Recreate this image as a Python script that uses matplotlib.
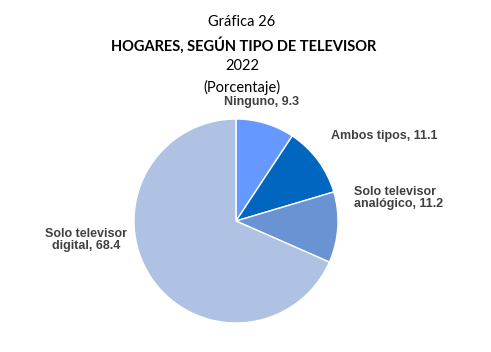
import matplotlib
matplotlib.use("Agg")
import matplotlib.pyplot as plt

# datos
categorias = ["Ninguno", "Ambos tipos", "Solo televisor\nanalógico", "Solo televisor\ndigital"]
valores = [9.3, 11.1, 11.2, 68.4]
colores = ["#6699FF", "#0066BF", "#6A93D3", "#AFC2E3"]

fig = plt.figure(figsize=(4.91, 3.52), dpi=100)

# pie centered at ~(236, 221) px, radius ~102 px
W, H = 491.0, 352.0
cx, cy, r = 236, 221, 102
ax = fig.add_axes([(cx - r) / W, (H - cy - r) / H, 2 * r / W, 2 * r / H])
ax.pie(valores, colors=colores, startangle=90, counterclock=False, radius=1,
       wedgeprops=dict(edgecolor="white", linewidth=1))
ax.set_xlim(-1, 1)
ax.set_ylim(-1, 1)
ax.set_aspect("equal")
ax.axis("off")

lbl = dict(fontsize=9, fontweight="bold", color="#404040", family="Liberation Sans",
           clip_on=False, linespacing=1.1)
pos = [(0.255, 1.167, "center"), (1.456, 0.833, "center"),
       (1.157, 0.225, "left"), (-1.47, -0.186, "center")]
for (x, y, ha), c, v in zip(pos, categorias, valores):
    ax.text(x, y, f"{c}, {v}", ha=ha, va="center", multialignment=ha, **lbl)

tfont = dict(family="Lato", fontsize=10.5, ha="center", va="center", color="black")
fig.text(242 / W, 1 - 22 / H, "Gráfica 26", **tfont)
fig.text(244 / W, 1 - 45 / H, "HOGARES, SEGÚN TIPO DE TELEVISOR", fontweight="bold", **tfont)
fig.text(242 / W, 1 - 66 / H, "2022", **tfont)
fig.text(242 / W, 1 - 87 / H, "(Porcentaje)", **tfont)

fig.savefig("out.png", dpi=100)
